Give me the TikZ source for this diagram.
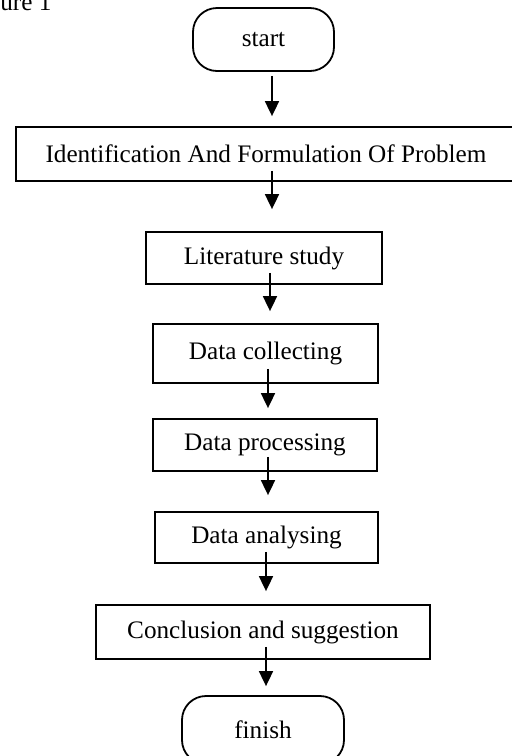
\documentclass[tikz,border=0pt]{standalone}
\usepackage{fontspec}
\setmainfont{Liberation Serif}
\usepackage{tikz}
\usetikzlibrary{positioning, arrows.meta, calc}

\begin{document}
\begin{tikzpicture}[
        x=0.5pt, y=-0.5pt,
        txt/.style={inner sep=0pt, font=\fontsize{12.6}{14}\selectfont},
        box/.style={draw, rectangle, txt, line width=0.9pt, align=center},
        term/.style={box, rounded corners=12pt},
        arr/.style={-{Triangle[width=7pt, length=7.5pt]}, line width=0.9pt}
    ]
    \useasboundingbox (0,0) rectangle (511,756);

    \node[txt, anchor=base west] (cap) at (0,10.5) {ure 1};

    \node[term, minimum width=70.5pt, minimum height=31.5pt] (start) at (263.5,39.5) {start};
    \node[box, minimum width=250pt, minimum height=27pt] (ident) at (266,154) {Identification And Formulation Of Problem};
    \node[box, minimum width=118pt, minimum height=26pt] (lit) at (264,258) {Literature study};
    \node[box, minimum width=112.5pt, minimum height=29.5pt] (collect) at (265.5,353.5) {Data collecting};
    \node[box, minimum width=112pt, minimum height=26pt] (process) at (265,445) {Data processing};
    \node[box, minimum width=111.5pt, minimum height=25.5pt] (analyse) at (266.5,537.5) {Data analysing};
    \node[box, minimum width=167pt, minimum height=27pt] (concl) at (263,632) {Conclusion and suggestion};
    \node[term, minimum width=81pt, minimum height=34pt] (finish) at (263,730) {finish};

    \draw[arr] ([shift={(8.5,4)}]start.south) -- ([shift={(6,-10)}]ident.north);
    \draw[arr] ([shift={(6,-11)}]ident.south) -- ([shift={(8,-22)}]lit.north);
    \draw[arr] ([shift={(6,-12)}]lit.south) -- ([shift={(4.5,-12)}]collect.north);
    \draw[arr] ([shift={(2.5,-15)}]collect.south) -- ([shift={(3,-10)}]process.north);
    \draw[arr] ([shift={(3,-15)}]process.south) -- ([shift={(1.5,-16)}]analyse.north);
    \draw[arr] ([shift={(-0.5,-12)}]analyse.south) -- ([shift={(3,-13)}]concl.north);
    \draw[arr] ([shift={(3,-13)}]concl.south) -- ([shift={(3,-9)}]finish.north);

\end{tikzpicture}
\end{document}
